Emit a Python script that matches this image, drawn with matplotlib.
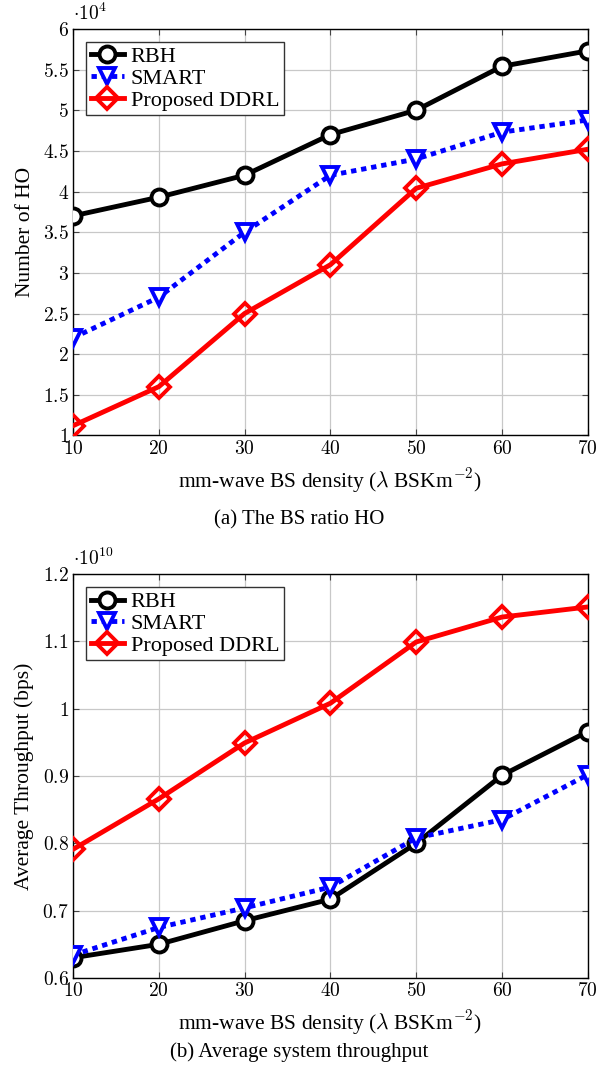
import matplotlib.pyplot as plt
from matplotlib.ticker import FuncFormatter, MultipleLocator

plt.rcParams['font.family'] = ['Liberation Serif', 'DejaVu Serif']
plt.rcParams['mathtext.fontset'] = 'cm'

# x values (BS density)
density = [10, 20, 30, 40, 50, 60, 70]

# number of HO, in units of 1e4
ho_rbh = [3.70, 3.93, 4.20, 4.70, 5.00, 5.54, 5.73]
ho_smart = [2.20, 2.70, 3.50, 4.20, 4.40, 4.73, 4.88]
ho_ddrl = [1.12, 1.60, 2.50, 3.10, 4.04, 4.34, 4.52]

# average throughput, in units of 1e10 bps
tp_rbh = [0.630, 0.650, 0.685, 0.717, 0.800, 0.901, 0.966]
tp_smart = [0.634, 0.675, 0.704, 0.735, 0.808, 0.835, 0.902]
tp_ddrl = [0.791, 0.866, 0.949, 1.008, 1.099, 1.136, 1.151]

fig = plt.figure(figsize=(5.98, 10.7), dpi=100)
ax1 = fig.add_axes([0.122, 0.593, 0.861, 0.380])
ax2 = fig.add_axes([0.122, 0.086, 0.861, 0.3776])


def fmt(v, pos):
    s = f"{v:g}"
    return f"${s}$"


def draw(ax, rbh, smart, ddrl):
    ax.plot(density, rbh, color='black', lw=3.5, marker='o', ms=11.5,
            mfc='white', mew=2.8, label='RBH', zorder=3)
    ax.plot(density, smart, color='blue', lw=3.5, ls=(0, (1.1, 1.0)),
            marker='v', ms=12, mfc='white', mew=2.8, label='SMART', zorder=3)
    ax.plot(density, ddrl, color='red', lw=3.5, marker='D', ms=11,
            mfc='none', mew=2.8, label='Proposed DDRL', zorder=4)
    ax.set_xlim(10, 70)
    ax.xaxis.set_major_locator(MultipleLocator(10))
    ax.xaxis.set_major_formatter(FuncFormatter(fmt))
    ax.yaxis.set_major_formatter(FuncFormatter(fmt))
    ax.grid(True, color='#c8c8c8', lw=0.9)
    ax.set_axisbelow(True)
    ax.tick_params(direction='in', top=True, right=True, labelsize=14,
                   length=4, color='#444444', pad=3)
    for sp in ax.spines.values():
        sp.set_linewidth(1.0)
    ax.set_xlabel(r'mm-wave BS density ($\lambda$ BSKm$^{-2}$)', fontsize=15.5,
                  labelpad=6)
    leg = ax.legend(loc='upper left', fontsize=16, handlelength=1.5,
                    handletextpad=0.3, borderpad=0.2, labelspacing=0.05,
                    fancybox=False, framealpha=1, borderaxespad=0.6)
    leg.get_frame().set_edgecolor('#333333')
    leg.get_frame().set_linewidth(1.0)


draw(ax1, ho_rbh, ho_smart, ho_ddrl)
ax1.set_ylim(1, 6)
ax1.yaxis.set_major_locator(MultipleLocator(0.5))
ax1.set_ylabel('Number of HO', fontsize=15.5, labelpad=6)
ax1.text(0.0, 1.012, r'$\cdot 10^4$', transform=ax1.transAxes, fontsize=14,
         ha='left', va='bottom')
fig.text(0.5, 1 - 520 / 1070, '(a) The BS ratio HO', ha='center',
         va='center', fontsize=15)

draw(ax2, tp_rbh, tp_smart, tp_ddrl)
ax2.set_ylim(0.6, 1.2)
ax2.yaxis.set_major_locator(MultipleLocator(0.1))
ax2.set_ylabel('Average Throughput (bps)', fontsize=15.5, labelpad=6)
ax2.text(0.0, 1.012, r'$\cdot 10^{10}$', transform=ax2.transAxes,
         fontsize=14, ha='left', va='bottom')
fig.text(0.5, 1 - 1052 / 1070, '(b) Average system throughput', ha='center',
         va='center', fontsize=15)

fig.savefig('out.png', dpi=100)
